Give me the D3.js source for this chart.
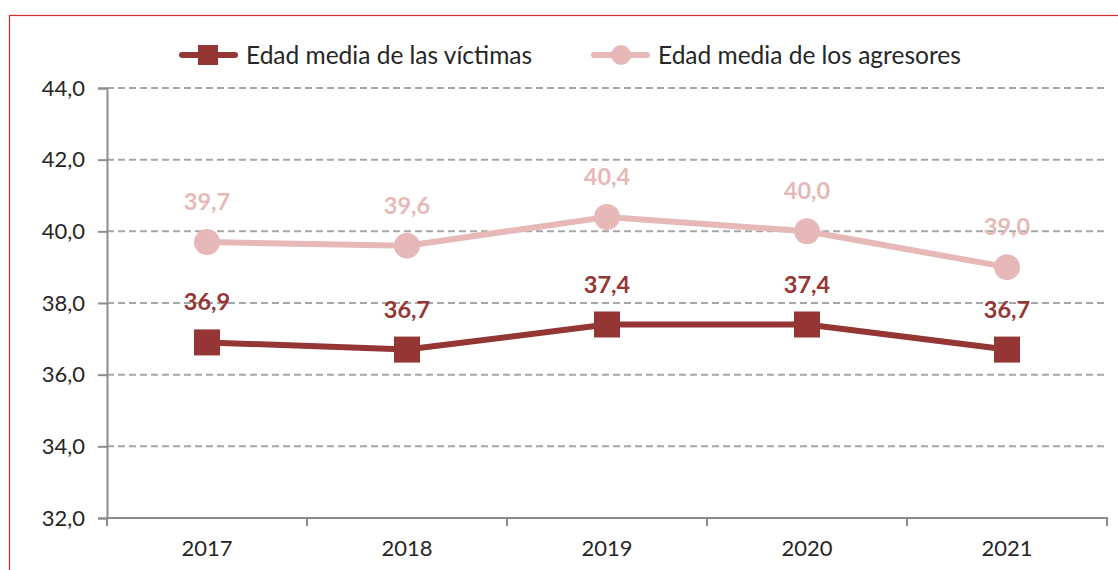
<!DOCTYPE html>
<html><head><meta charset="utf-8">
<script src="https://cdn.jsdelivr.net/npm/d3@7"></script>
<style>
html,body{margin:0;padding:0;background:#fff;}
svg{display:block;font-family:Lato, "Open Sans", sans-serif;}
</style></head>
<body>
<svg id="chart" width="1118" height="570"></svg>
<script>
const years = ["2017","2018","2019","2020","2021"];
const victimas = [36.9, 36.7, 37.4, 37.4, 36.7];
const agresores = [39.7, 39.6, 40.4, 40.0, 39.0];
const yTicks = [32, 34, 36, 38, 40, 42, 44];
const seriesNames = ["Edad media de las víctimas", "Edad media de los agresores"];

const cVict = "#943634", cAgr = "#E6B9B8";
const svg = d3.select("#chart");
const W = 1118, H = 570;
const m = {left:107, right:11, top:88, bottom:52};

// frame
svg.append("rect").attr("x",9.5).attr("y",15.5).attr("width",W+20).attr("height",H+20)
  .attr("fill","none").attr("stroke","#d9262b").attr("stroke-width",1.2);

const x = d3.scaleBand().domain(years).range([m.left, W-m.right]);
const y = d3.scaleLinear().domain([32,44]).range([H-m.bottom, m.top]);

// gridlines
svg.append("g").selectAll("line").data(yTicks.filter(d=>d>32)).join("line")
  .attr("x1",m.left).attr("x2",W-m.right)
  .attr("y1",d=>y(d)).attr("y2",d=>y(d))
  .attr("stroke","#a6a6a6").attr("stroke-width",2).attr("stroke-dasharray","7,4");

// y axis
const fmt = d=>d3.format(".1f")(d).replace(".",",");
const ya = svg.append("g").attr("transform",`translate(${m.left},0)`)
  .call(d3.axisLeft(y).tickValues(yTicks).tickFormat(fmt).tickSize(9).tickPadding(13));
ya.select(".domain").attr("stroke","#8c8c8c").attr("stroke-width",2);
ya.selectAll(".tick line").attr("stroke","#8c8c8c").attr("stroke-width",2);
ya.selectAll("text").attr("font-size",22).attr("fill","#262626").attr("font-family","Lato");

// x axis
const xa = svg.append("g").attr("transform",`translate(0,${H-m.bottom})`)
  .call(d3.axisBottom(x).tickSize(0).tickPadding(22));
xa.select(".domain").attr("stroke","#8c8c8c").attr("stroke-width",2).attr("d",`M${m.left},8V0H${W-m.right}V8`);
xa.selectAll(".tick line").remove();
xa.selectAll("text").attr("font-size",22).attr("fill","#262626").attr("font-family","Lato");
xa.append("g").selectAll("line").data(years.slice(1)).join("line")
  .attr("x1",d=>x(d)).attr("x2",d=>x(d)).attr("y1",0).attr("y2",8)
  .attr("stroke","#8c8c8c").attr("stroke-width",2);

const cx = d=>x(d)+x.bandwidth()/2;
const line = d3.line().x((d,i)=>cx(years[i])).y(d=>y(d));

// aggressors
svg.append("path").datum(agresores).attr("d",line).attr("fill","none")
  .attr("stroke",cAgr).attr("stroke-width",6);
svg.append("g").selectAll("circle").data(agresores).join("circle")
  .attr("cx",(d,i)=>cx(years[i])).attr("cy",d=>y(d)).attr("r",13).attr("fill",cAgr);

// victims
svg.append("path").datum(victimas).attr("d",line).attr("fill","none")
  .attr("stroke",cVict).attr("stroke-width",6);
svg.append("g").selectAll("rect").data(victimas).join("rect")
  .attr("x",(d,i)=>cx(years[i])-13).attr("y",d=>y(d)-13).attr("width",26).attr("height",26).attr("fill",cVict);

// labels
svg.append("g").selectAll("text").data(agresores).join("text")
  .attr("x",(d,i)=>cx(years[i])).attr("y",d=>y(d)-32)
  .attr("text-anchor","middle").attr("font-size",23.5).attr("font-weight","bold")
  .attr("fill",cAgr).text(fmt);
svg.append("g").selectAll("text").data(victimas).join("text")
  .attr("x",(d,i)=>cx(years[i])).attr("y",d=>y(d)-32)
  .attr("text-anchor","middle").attr("font-size",23.5).attr("font-weight","bold")
  .attr("fill",cVict).text(fmt);

// legend
const leg = [{name:seriesNames[0], c:cVict, sym:"sq", x0:180},{name:seriesNames[1], c:cAgr, sym:"ci", x0:592}];
const lg = svg.append("g").selectAll("g").data(leg).join("g").attr("transform",d=>`translate(${d.x0},55)`);
lg.append("line").attr("x1",2).attr("x2",55).attr("y1",0).attr("y2",0)
  .attr("stroke",d=>d.c).attr("stroke-width",6).attr("stroke-linecap","round");
lg.filter(d=>d.sym==="sq").append("rect").attr("x",18).attr("y",-10).attr("width",20).attr("height",20).attr("fill",d=>d.c);
lg.filter(d=>d.sym==="ci").append("circle").attr("cx",29).attr("cy",0).attr("r",10).attr("fill",d=>d.c);
lg.append("text").attr("x",66).attr("y",0).attr("dy","0.35em").attr("font-size",24.5)
  .attr("fill","#262626").text(d=>d.name);
</script>
</body></html>
